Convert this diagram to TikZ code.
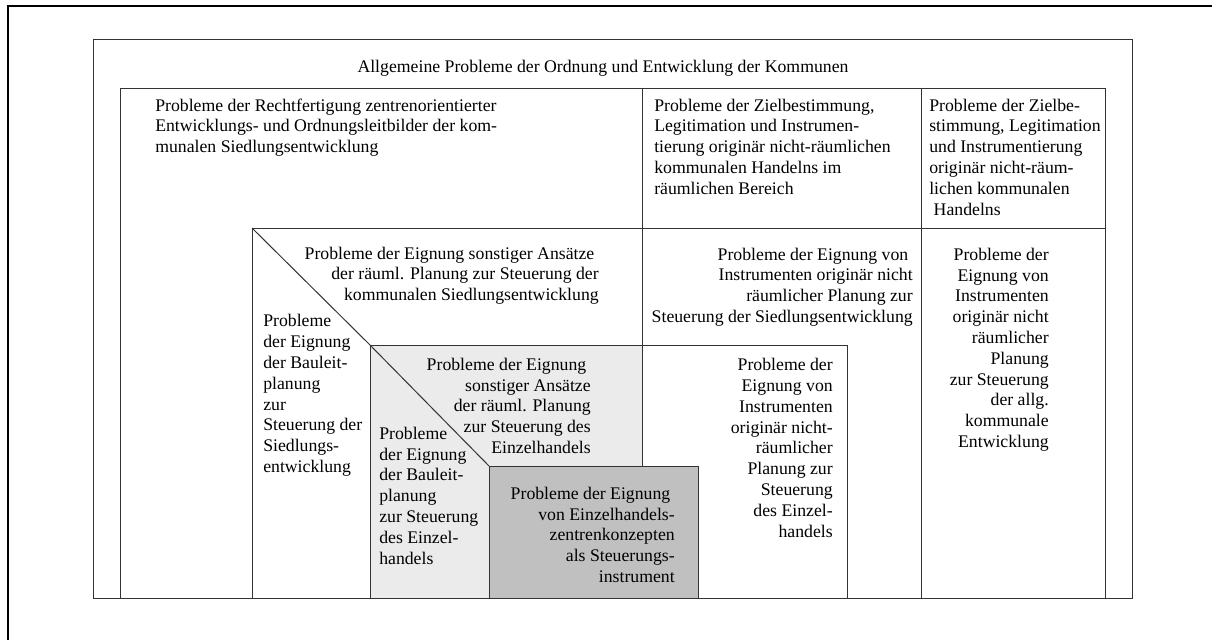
\documentclass[tikz,border=0pt]{standalone}
\usepackage{fontspec}
\setmainfont{Liberation Serif}

\newcommand{\cellfont}{\fontsize{13.3}{15.6}\selectfont}
\newcommand{\tsp}{\hspace*{.25em}}

\definecolor{graylight}{HTML}{EBEBEB}
\definecolor{graydark}{HTML}{C0C0C0}

% base anchor of a multi-line node = baseline of its last line
\tikzset{
  box/.style={draw=black!80, line width=0.75pt},
  frame/.style={draw=black, line width=1.8pt},
  txtl/.style={inner sep=0pt, font=\cellfont, align=left, anchor=base west},
  txtr/.style={inner sep=0pt, font=\cellfont, align=right, anchor=base east}
}

\begin{document}
\begin{tikzpicture}[x=0.75pt, y=-0.75pt]

    % 1. Page size and outer frame
    \useasboundingbox (0,0) rectangle (1212,639);
    \draw [frame] (8,700) -- (8,6) -- (1300,6);

    % 2. Fields
    \draw [box, fill=graylight] (370,345) rectangle (642,598);
    \draw [box, fill=graydark] (489,466) rectangle (698,598);

    % 3. Outer boxes
    \draw [box] (93,39) rectangle (1132,598);
    \draw [box] (120,88) rectangle (1105,598);

    % 4. Column and row lines
    \draw [box] (642,88) -- (642,345);
    \draw [box] (921,88) -- (921,598);
    \draw [box] (252,598) |- (1105,228);
    \draw [box] (642,345) -| (847,598);

    % 5. Diagonals
    \draw [box] (252,228) -- (370,345);
    \draw [box] (370,345) -- (489,466);

    % 6. Title
    \node [txtl, anchor=base] (title) at (603,72)
      {Allgemeine Probleme der Ordnung und Entwicklung der Kommunen};

    % 7. Top row
    \node [txtl] (rechtfertigung) at (155,152.6)
      {Probleme der Rechtfertigung zentrenorientierter\\
       Entwicklungs- und Ordnungsleitbilder der kom-\\
       munalen Siedlungsentwicklung};
    \node [txtl] (zielraum) at (654,194.2)
      {Probleme der Zielbestimmung,\\
       Legitimation und Instrumen-\\
       tierung originär nicht-räumlichen\\
       kommunalen Handelns im\\
       räumlichen Bereich};
    \node [txtl] (zielallg) at (929,215)
      {Probleme der Zielbe-\\
       stimmung, Legitimation\\
       und Instrumentierung\\
       originär nicht-räum-\\
       lichen kommunalen\\
       \tsp Handelns};

    % 8. Settlement development
    \node [txtr] (sonstsied) at (599,300.6)
      {Probleme der Eignung sonstiger Ansätze\tsp\\
       der räuml. Planung zur Steuerung der\\
       kommunalen Siedlungsentwicklung};
    \node [txtl] (bauleitsied) at (263,472.5)
      {Probleme\\ der Eignung\\ der Bauleit-\\ planung\\ zur\\
       Steuerung der\\ Siedlungs-\\ entwicklung};
    \node [txtr] (instrsied) at (913,322.4)
      {Probleme der Eignung von\tsp\\
       Instrumenten originär nicht\\
       räumlicher Planung zur\tsp\\
       Steuerung der Siedlungsentwicklung};
    \node [txtr] (instrallg) at (1049,447.5)
      {Probleme der\\ Eignung von\tsp\\ Instrumenten\tsp\\ originär nicht\\
       räumlicher\\ Planung\tsp\\ zur Steuerung\tsp\\ der allg.\\
       kommunale\\ Entwicklung};

    % 9. Retail
    \node [txtr] (sonsteinz) at (591,453.5)
      {Probleme der Eignung\tsp\\ sonstiger Ansätze\tsp\\
       der räuml. Planung\tsp\\ zur Steuerung des\\ Einzelhandels};
    \node [txtl] (bauleiteinz) at (379,564)
      {Probleme\\ der Eignung\\ der Bauleit-\\ planung\\
       zur Steuerung\\ des Einzel-\\ handels};
    \node [txtr] (zentren) at (675,582.5)
      {Probleme der Eignung\tsp\\ von Einzelhandels-\\
       zentrenkonzepten\\ als Steuerungs-\\ instrument};
    \node [txtr] (instreinz) at (833,537)
      {Probleme der\\ Eignung von\tsp\\ Instrumenten\tsp\\ originär nicht-\\
       räumlicher\tsp\\ Planung zur\tsp\\ Steuerung\tsp\\ des Einzel-\\ handels};

\end{tikzpicture}
\end{document}
